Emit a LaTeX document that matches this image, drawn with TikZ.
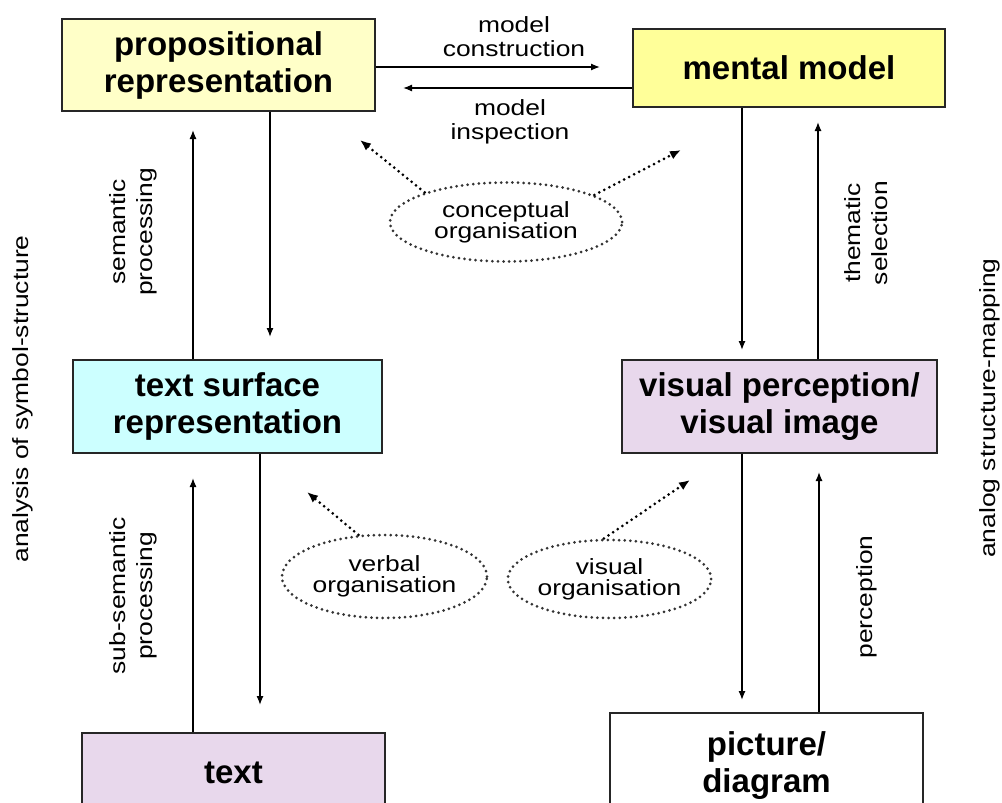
\documentclass[tikz,border=0pt]{standalone}
\usepackage{fontspec}
\setmainfont{Liberation Sans}
\newfontfamily\lblfont[FakeStretch=1.2]{Liberation Sans}
\usetikzlibrary{shapes.geometric,arrows.meta}

\definecolor{propyellow}{RGB}{255,255,200}
\definecolor{mentalyellow}{RGB}{255,255,153}
\definecolor{surfcyan}{RGB}{204,255,255}
\definecolor{vislilac}{RGB}{232,216,236}

\tikzset{
  box/.style={draw=black!85,line width=1.4pt,inner sep=0pt,align=center,
    font=\fontsize{33}{37}\selectfont\bfseries},
  lbl/.style={align=center,inner sep=0pt,font=\lblfont\fontsize{22}{24}\selectfont},
  side/.style={align=center,inner sep=0pt,rotate=90,font=\lblfont\fontsize{22}{27}\selectfont},
  dots/.style={line width=3pt,line cap=round,dash pattern=on 0pt off 5.6pt},
  org/.style={ellipse,dots,draw=black!80,inner sep=0pt,align=center,
    font=\lblfont\fontsize{22}{21}\selectfont},
  >={Latex[length=9pt,width=7pt]}
}

\begin{document}
\begin{tikzpicture}[x=1pt,y=-1pt,line width=1.3pt]
  \useasboundingbox (0,0) rectangle (1002,803);
  \fill[white] (0,0) rectangle (1002,803);
  \clip (0,0) rectangle (1002,803);

  \node[box,fill=propyellow,minimum width=313,minimum height=92] (prop) at (218.5,65) {propositional\\representation};
  \node[box,fill=mentalyellow,minimum width=312,minimum height=78] (mental) at (789,68) {mental model};
  \node[box,fill=surfcyan,minimum width=309,minimum height=93] (surf) at (227.5,406.5) {text surface\\representation};
  \node[box,fill=vislilac,minimum width=315,minimum height=93] (vis) at (779.5,406.5) {visual perception/\\visual image};
  \node[box,fill=vislilac,minimum width=303,minimum height=80] (txt) at (233.5,773) {text};
  \node[box,fill=white,minimum width=313,minimum height=106] (pic) at (766.5,766) {picture/\\diagram};

  \coordinate (cons) at (600,67);
  \coordinate (insp) at (403,88);
  \draw [->] (prop.east |- cons) -- (cons);
  \draw [->] (mental.west |- insp) -- (insp);
  \node[lbl] (lcons) at (514,37) {model\\construction};
  \node[lbl] (linsp) at (510,122) {model\\inspection};

  \coordinate (semup) at (193,130);
  \coordinate (semdn) at (270,337);
  \draw [->] (surf.north -| semup) -- (semup);
  \draw [->] (prop.south -| semdn) -- (semdn);
  \node[side] (lsem) at (133.5,232) {semantic\\processing};

  \coordinate (themup) at (818,122);
  \coordinate (themdn) at (742,350);
  \draw [->] (vis.north -| themup) -- (themup);
  \draw [->] (mental.south -| themdn) -- (themdn);
  \node[side] (lthem) at (866.5,233) {thematic\\selection};

  \coordinate (subup) at (193,478);
  \coordinate (subdn) at (260,705);
  \draw [->] (txt.north -| subup) -- (subup);
  \draw [->] (surf.south -| subdn) -- (subdn);
  \node[side] (lsub) at (133.5,596) {sub-semantic\\processing};

  \coordinate (percup) at (819,472);
  \coordinate (percdn) at (742,700);
  \draw [->] (pic.north -| percup) -- (percup);
  \draw [->] (vis.south -| percdn) -- (percdn);
  \node[side] (lperc) at (867,597) {perception};

  \node[side] (lsym) at (23,399) {analysis of symbol-structure};
  \node[side] (lana) at (990,408) {analog structure-mapping};

  \node[org,minimum width=232,minimum height=79] (conc) at (506,222) {conceptual\\organisation};
  \node[org,minimum width=205,minimum height=83] (verb) at (384.5,576.5) {verbal\\organisation};
  \node[org,minimum width=195,minimum height=78] (visorg) at (609.5,579) {visual\\organisation};

  \coordinate (concl) at (360,140);
  \coordinate (concr) at (681,150);
  \coordinate (verbt) at (307,492);
  \coordinate (vist) at (690,480);
  \draw [dots,-{Latex[length=11pt,width=9pt]}] (conc.160) -- (concl);
  \draw [dots,-{Latex[length=11pt,width=9pt]}] (conc.17) -- (concr);
  \draw [dots,-{Latex[length=11pt,width=9pt]}] (verb.122) -- (verbt);
  \draw [dots,-{Latex[length=11pt,width=9pt]}] (visorg.98) -- (vist);
\end{tikzpicture}
\end{document}
